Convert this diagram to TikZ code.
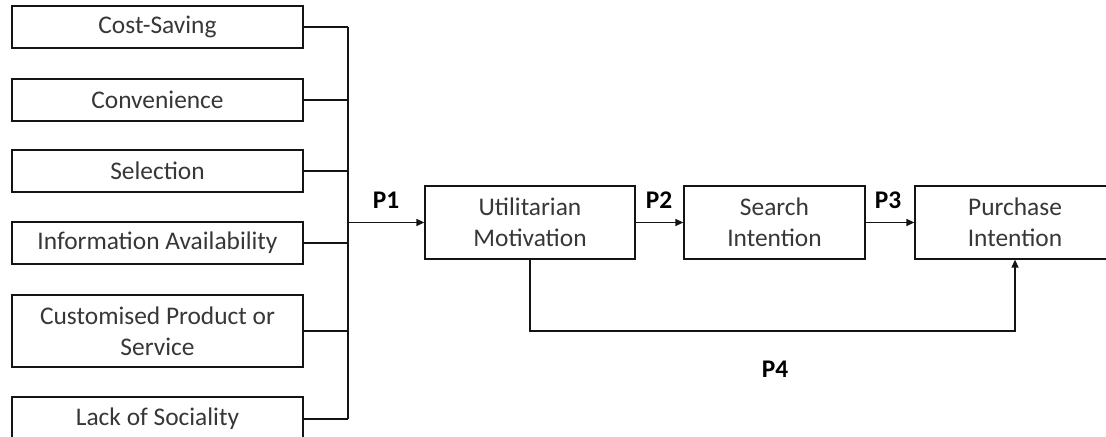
\documentclass[tikz,border=0pt]{standalone}
\usepackage{fontspec}
\setmainfont{Carlito}
\usepackage{xcolor}
\usetikzlibrary{arrows.meta, positioning, calc}
\definecolor{BoxText}{RGB}{55, 55, 55}
\definecolor{LineDark}{RGB}{20, 20, 20}

\begin{document}
\begin{tikzpicture}[x=0.5pt, y=-0.5pt,
    font=\fontsize{12.7}{15.5}\selectfont,
    factorbox/.style={draw=LineDark, line width=0.65pt, minimum width=145.5pt, minimum height=21pt,
      inner sep=0pt, align=center, text=BoxText},
    stagebox/.style={draw=LineDark, line width=0.65pt, minimum height=36.5pt,
      inner sep=0pt, align=center, text=BoxText},
    link/.style={LineDark, line width=0.65pt},
    arrowlink/.style={link, -{Triangle[length=4pt, width=3.5pt]}},
    plabel/.style={font=\fontsize{12.7}{15}\selectfont\bfseries}]
  \fill[white] (0,0) rectangle (1106,437);
  \clip (0,0) rectangle (1106,437);
  \useasboundingbox (0,0) rectangle (1106,437);

  % Factors
  \node[factorbox] (cost) at (157.5,27) {Cost-Saving};
  \node[factorbox] (conv) at (157.5,100) {Convenience};
  \node[factorbox] (sel) at (157.5,171) {Selection};
  \node[factorbox] (info) at (157.5,243) {Information Availability};
  \node[factorbox, minimum height=36pt] (cust) at (157.5,331) {Customised Product or\\Service};
  \node[factorbox, minimum height=22pt] (lack) at (157.5,419) {Lack of Sociality};

  % Stages
  \node[stagebox, minimum width=105pt] (util) at (530,222.5) {Utilitarian\\Motivation};
  \node[stagebox, minimum width=90.5pt] (search) at (774.5,222.5) {Search\\Intention};
  \node[stagebox, minimum width=100pt] (purch) at (1015,222.5) {Purchase\\Intention};

  % Bus to P1
  \coordinate (bus) at (348,0);
  \coordinate (p4turn) at (0,331);
  \foreach \f in {cost, conv, sel, info, cust, lack}
    \draw[link] (\f.east) -- (\f.east -| bus);
  \draw[link] (cost.east -| bus) -- (lack.east -| bus);
  \draw[arrowlink] (util.west -| bus) -- (util.west);
  \draw[arrowlink] (util.east) -- (search.west);
  \draw[arrowlink] (search.east) -- (purch.west);
  \draw[arrowlink] (util.south) -- (util.south |- p4turn) -| (purch.south);

  % Labels
  \node[plabel] (p1) at (386,200) {P1};
  \node[plabel] (p2) at (659,200) {P2};
  \node[plabel] (p3) at (888,200) {P3};
  \node[plabel] (p4) at (775,369) {P4};
\end{tikzpicture}
\end{document}
